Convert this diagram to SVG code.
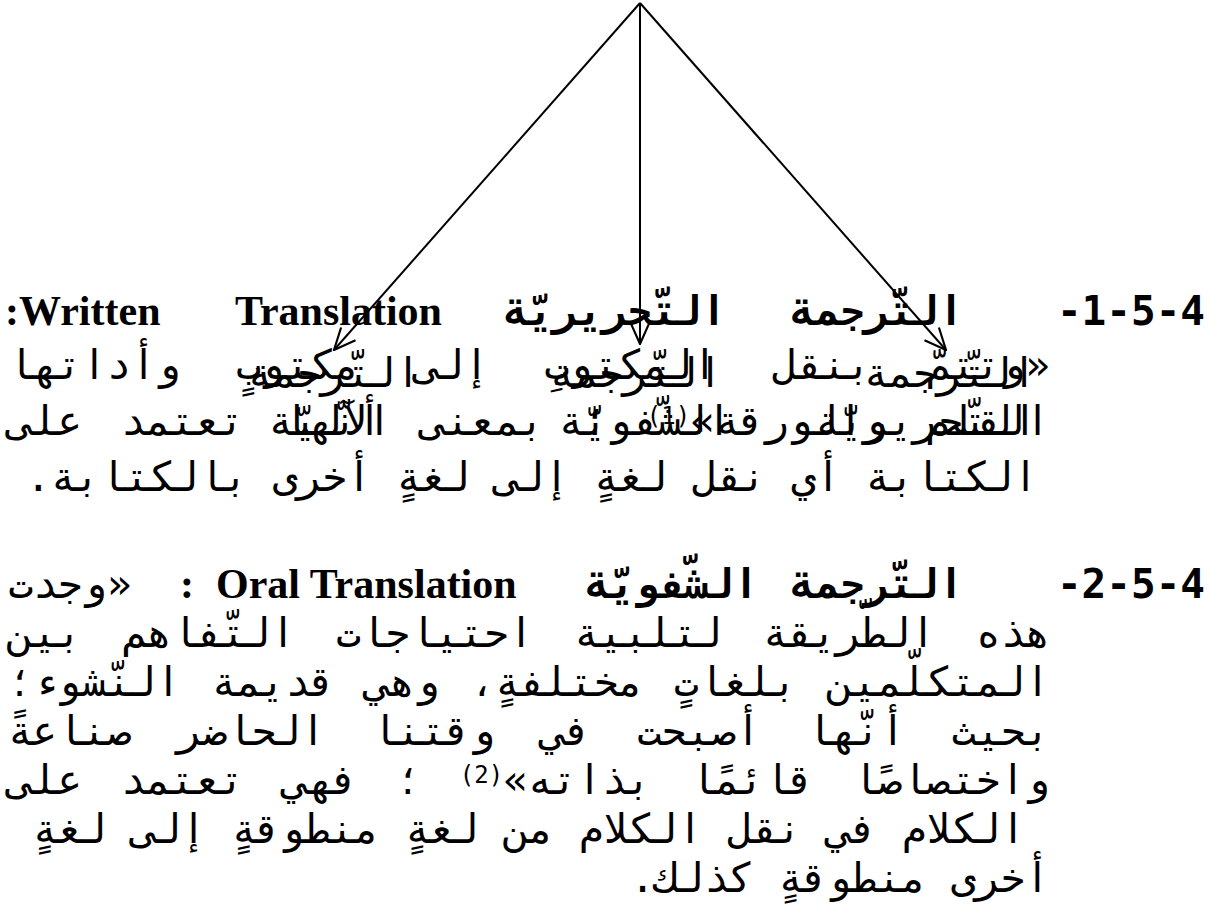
<svg xmlns="http://www.w3.org/2000/svg" width="1210" height="923" viewBox="0 0 1210 923">
<defs>
<style>
.m{font-family:"DejaVu Sans Mono",monospace;font-size:41px;fill:#000}
.mb{font-family:"DejaVu Sans Mono",monospace;font-size:41px;font-weight:bold;fill:#000}
.sb{font-family:"Liberation Serif","Times New Roman",serif;font-size:42px;font-weight:bold;fill:#000}
.sup{font-size:24px}
.ln{stroke:#000;stroke-width:2;fill:none}
</style>
<marker id="ah" markerUnits="userSpaceOnUse" viewBox="0 0 20 20" refX="19" refY="10" markerWidth="24" markerHeight="24" orient="auto">
<path d="M1,2 L19,10 L1,18" fill="none" stroke="#000" stroke-width="1.8"/>
</marker>
</defs>
<rect width="1210" height="923" fill="#fff"/>
<g id="connectors">
<line class="ln" x1="640" y1="3" x2="334" y2="350" marker-end="url(#ah)"/>
<line class="ln" x1="640" y1="3" x2="640" y2="344" marker-end="url(#ah)"/>
<line class="ln" x1="640" y1="3" x2="946" y2="350" marker-end="url(#ah)"/>
</g>
<g id="heading-1">
<text class="mb" x="1205" y="325" text-anchor="end">-1-5-4</text>
<text class="mb" x="877" y="325" text-anchor="middle" direction="rtl">التّرجمة</text>
<text class="mb" x="615" y="325" text-anchor="middle" direction="rtl">التّحريريّة</text>
<text class="sb" x="235" y="325">Translation</text>
<text class="sb" x="5" y="325">:Written</text>
</g>
<g id="paragraph-1">
<text class="m" x="529" y="379" text-anchor="middle" direction="rtl" word-spacing="30.7">«وتتمّ بنقل المكتوبِ إلى مكتوبٍ وأداتها</text>
<text class="m" x="529" y="435" text-anchor="middle" direction="rtl" word-spacing="14.2">القلم والورقة»<tspan class="sup" baseline-shift="45%">(1)</tspan> ؛ بمعنى أنّها تعتمد على</text>
<text class="m" x="532" y="491" text-anchor="middle" direction="rtl">الكتابة أي نقل لغةٍ إلى لغةٍ أخرى بالكتابة.</text>
</g>
<g id="node-left">
<text class="m" x="334" y="387" text-anchor="middle" direction="rtl">التّرجمة</text>
<text class="m" x="330" y="435" text-anchor="middle" direction="rtl">الآليّة</text>
</g>
<g id="node-middle">
<text class="m" x="636" y="387" text-anchor="middle" direction="rtl">التّرجمة</text>
<text class="m" x="645" y="435" text-anchor="middle" direction="rtl">الشّفويّة</text>
</g>
<g id="node-right">
<text class="m" x="950" y="387" text-anchor="middle" direction="rtl">التّرجمة</text>
<text class="m" x="926" y="435" text-anchor="middle" direction="rtl">التّحريريّة</text>
</g>
<g id="heading-2">
<text class="mb" x="1205" y="598" text-anchor="end">-2-5-4</text>
<text class="mb" x="877" y="598" text-anchor="middle" direction="rtl">التّرجمة</text>
<text class="mb" x="672" y="598" text-anchor="middle" direction="rtl">الشّفويّة</text>
<text class="sb" x="216" y="598">Oral Translation</text>
<text class="sb" x="180" y="598">:</text>
<text class="m" x="70" y="598" text-anchor="middle" direction="rtl">«وجدت</text>
</g>
<g id="paragraph-2">
<text class="m" x="529" y="647" text-anchor="middle" direction="rtl" word-spacing="15.9">هذه الطّريقة لتلبية احتياجات التّفاهم بين</text>
<text class="m" x="529" y="696" text-anchor="middle" direction="rtl" word-spacing="6">المتكلّمين بلغاتٍ مختلفةٍ، وهي قديمة النّشوء؛</text>
<text class="m" x="529" y="745" text-anchor="middle" direction="rtl" word-spacing="21.5">بحيث أنّها أصبحت في وقتنا الحاضر صناعةً</text>
<text class="m" x="529" y="794" text-anchor="middle" direction="rtl" word-spacing="14.2">واختصاصًا قائمًا بذاته»<tspan class="sup" baseline-shift="45%">(2)</tspan> ؛ فهي تعتمد على</text>
<text class="m" x="529" y="843" text-anchor="middle" direction="rtl" word-spacing="0.7">الكلام في نقل الكلام من لغةٍ منطوقةٍ إلى لغةٍ</text>
<text class="m" x="840" y="892" text-anchor="middle" direction="rtl">أخرى منطوقةٍ كذلك.</text>
</g>
</svg>
